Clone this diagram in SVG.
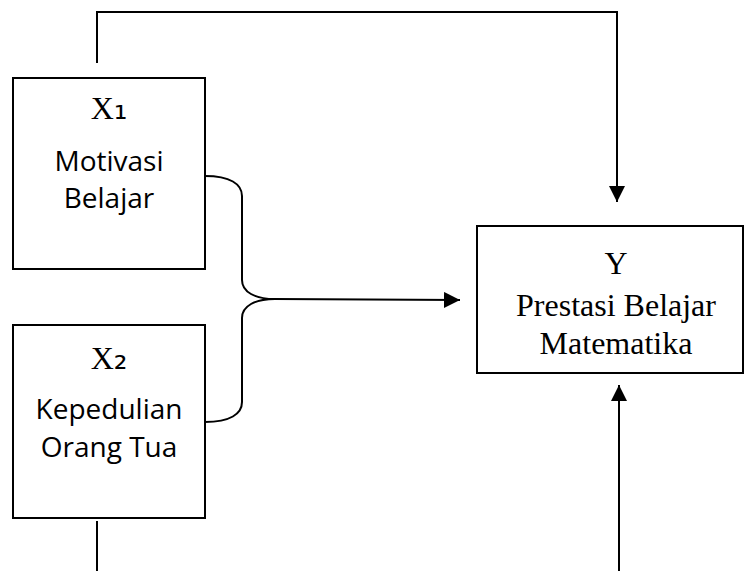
<svg xmlns="http://www.w3.org/2000/svg" width="744" height="571" viewBox="0 0 744 571">
<style>
.box{fill:#fff;stroke:#000;stroke-width:2}
.ln{fill:none;stroke:#000;stroke-width:2}
.tr{font-family:"Liberation Serif","Times New Roman",serif;font-size:32px;text-anchor:middle;fill:#000}
.ts{font-family:"Open Sans","Noto Sans",sans-serif;font-size:28px;text-anchor:middle;fill:#000}
.sub{font-family:"DejaVu Sans",sans-serif;font-size:34px}
</style>
<defs>
<marker id="ah" viewBox="0 0 16 16" refX="16" refY="8" markerWidth="16" markerHeight="16" markerUnits="userSpaceOnUse" orient="auto">
<path d="M0,0 L16,8 L0,16 Z" fill="#000"/>
</marker>
</defs>
<g id="connectors">
<path class="ln" d="M97,63 V12 H617 V202" marker-end="url(#ah)"/>
<path class="ln" d="M205,176 C230,176 242,184 242,196 L242,280 C242,292 255,299 275,299 L460,300" marker-end="url(#ah)"/>
<path class="ln" d="M205,422 C230,422 242,414 242,402 L242,318 C242,306 255,299 275,299"/>
<path class="ln" d="M97,521 V571"/>
<path class="ln" d="M619,571 V385" marker-end="url(#ah)"/>
</g>
<g id="x1">
<rect class="box" x="13" y="78" width="192" height="191"/>
<text class="tr" x="109" y="119">X<tspan class="sub">₁</tspan></text>
<text class="ts" x="109" y="171">Motivasi</text>
<text class="ts" x="109" y="208">Belajar</text>
</g>
<g id="x2">
<rect class="box" x="13" y="325" width="192" height="193"/>
<text class="tr" x="109" y="369">X<tspan class="sub">₂</tspan></text>
<text class="ts" x="109" y="419">Kepedulian</text>
<text class="ts" x="109" y="457">Orang Tua</text>
</g>
<g id="y">
<rect class="box" x="477" y="226" width="266" height="147"/>
<text class="tr" x="616" y="274">Y</text>
<text class="tr" x="616" y="316">Prestasi Belajar</text>
<text class="tr" x="616" y="354">Matematika</text>
</g>
</svg>
